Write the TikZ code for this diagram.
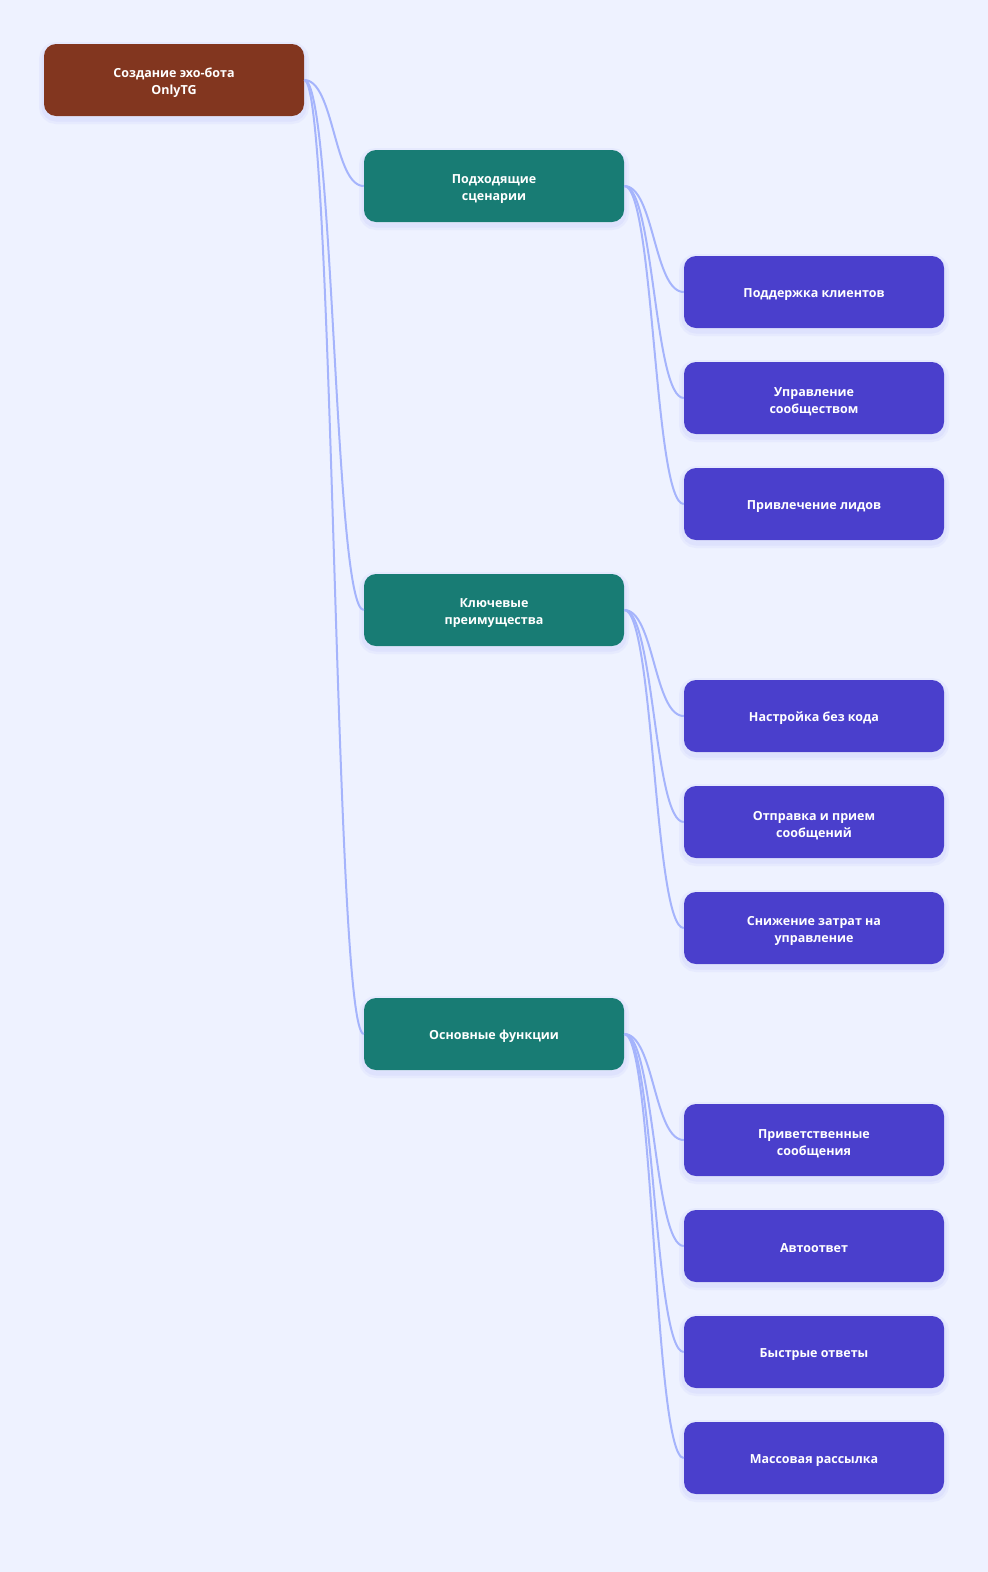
\documentclass[tikz,border=0pt]{standalone}
\usepackage{fontspec}
\setmainfont{Open Sans}
\definecolor{bgcol}{HTML}{EEF2FF}
\definecolor{rootcol}{HTML}{82361F}
\definecolor{midcol}{HTML}{187C74}
\definecolor{leafcol}{HTML}{4A3FCC}
\definecolor{linkcol}{HTML}{A5B4FC}
\definecolor{shadecol}{HTML}{6366F1}
\tikzset{
  % common look of all boxes, with a soft halo below
  box/.style={rounded corners=12pt,minimum width=260pt,minimum height=72pt,
    align=center,text=white,font=\bfseries\fontsize{12.5}{17}\selectfont,
    execute at begin node={\rule{0pt}{13.5pt}},
    preaction={draw=shadecol,draw opacity=.05,line width=10pt,transform canvas={yshift=-3pt}},
    preaction={draw=shadecol,draw opacity=.06,line width=5pt,transform canvas={yshift=-3pt}}},
  % two lines of text sit a bit lower
  twoline/.style={execute at begin node={\rule{0pt}{32.5pt}}},
  rootbox/.style={box,fill=rootcol},
  midbox/.style={box,fill=midcol},
  leafbox/.style={box,fill=leafcol},
  % horizontal s-shaped link
  link/.style={draw=linkcol,line width=2pt,
    to path={.. controls +(30,0) and +(-30,0) .. (\tikztotarget)}},
}
\begin{document}
\begin{tikzpicture}[x=1pt,y=-1pt]
\fill[bgcol] (0,0) rectangle (988,1572);
\useasboundingbox (0,0) rectangle (988,1572);

\node[rootbox,twoline] (root) at (174,80) {Создание эхо-бота\\OnlyTG};

\node[midbox,twoline] (cases) at (494,186) {Подходящие\\сценарии};
\node[midbox,twoline] (pros) at (494,610) {Ключевые\\преимущества};
\node[midbox] (funcs) at (494,1034) {Основные функции};

\node[leafbox] (c1) at (814,292) {Поддержка клиентов};
\node[leafbox,twoline] (c2) at (814,398) {Управление\\сообществом};
\node[leafbox] (c3) at (814,504) {Привлечение лидов};

\node[leafbox] (p1) at (814,716) {Настройка без кода};
\node[leafbox,twoline] (p2) at (814,822) {Отправка и прием\\сообщений};
\node[leafbox,twoline] (p3) at (814,928) {Снижение затрат на\\управление};

\node[leafbox,twoline] (f1) at (814,1140) {Приветственные\\сообщения};
\node[leafbox] (f2) at (814,1246) {Автоответ};
\node[leafbox] (f3) at (814,1352) {Быстрые ответы};
\node[leafbox] (f4) at (814,1458) {Массовая рассылка};

\foreach \m in {cases,pros,funcs}
  \draw[link] (root.east) to (\m.west);
\foreach \l in {c1,c2,c3}
  \draw[link] (cases.east) to (\l.west);
\foreach \l in {p1,p2,p3}
  \draw[link] (pros.east) to (\l.west);
\foreach \l in {f1,f2,f3,f4}
  \draw[link] (funcs.east) to (\l.west);
\end{tikzpicture}
\end{document}
